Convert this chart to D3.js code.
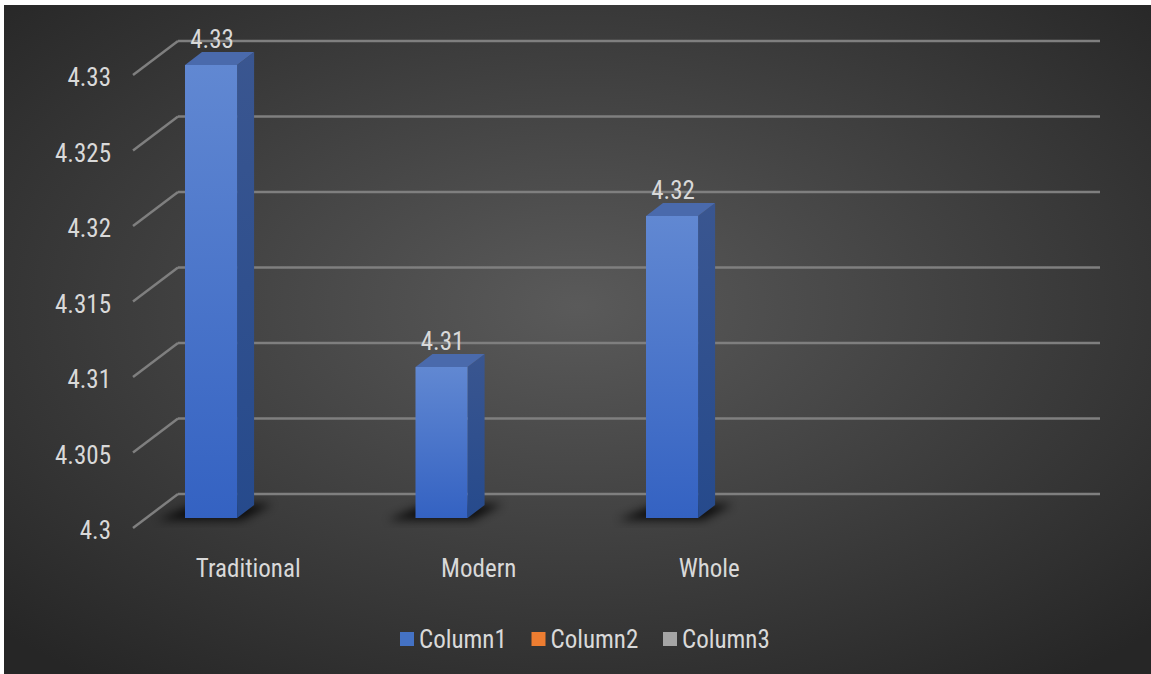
<!DOCTYPE html>
<html>
  <head>
    <meta charset="utf-8">
    <title>Column1 by group</title>
    <script src="https://d3js.org/d3.v7.min.js"></script>
    <style>
      body { margin: 0; background: #fff; }
      text { font-family: "Liberation Sans Narrow", "Roboto Condensed", Roboto, sans-serif; fill: #d9d9d9; }
    </style>
  </head>
  <body>
    <script>
      // chart data
      var categories = ["Traditional", "Modern", "Whole", ""],
        column1 = [4.33, 4.31, 4.32, null],
        yTicks = [4.3, 4.305, 4.31, 4.315, 4.32, 4.325, 4.33],
        legendNames = ["Column1", "Column2", "Column3"],
        legendColours = ["#4472c4", "#ed7d31", "#a5a5a5"];

      var width = 1151, height = 674;

      // depth of the back wall relative to the front edge of the floor
      var depth = [45, -34],
        barDepth = [17, -13];

      var svg = d3.select("body").append("svg")
        .attr("width", width)
        .attr("height", height);

      var defs = svg.append("defs");

      var bg = defs.append("radialGradient")
        .attr("id", "bg")
        .attr("cx", "50%").attr("cy", "45%").attr("r", "70%");
      bg.append("stop").attr("offset", "0%").attr("stop-color", "#5a5a5a");
      bg.append("stop").attr("offset", "100%").attr("stop-color", "#262626");

      var front = defs.append("linearGradient")
        .attr("id", "front").attr("x1", 0).attr("y1", 0).attr("x2", 0).attr("y2", 1);
      front.append("stop").attr("offset", "0%").attr("stop-color", "#6188d2");
      front.append("stop").attr("offset", "100%").attr("stop-color", "#3462c2");

      var side = defs.append("linearGradient")
        .attr("id", "side").attr("x1", 0).attr("y1", 0).attr("x2", 0).attr("y2", 1);
      side.append("stop").attr("offset", "0%").attr("stop-color", "#3a5690");
      side.append("stop").attr("offset", "100%").attr("stop-color", "#264a8c");

      defs.append("filter").attr("id", "blur")
        .attr("x", "-50%").attr("y", "-50%").attr("width", "200%").attr("height", "200%")
        .append("feGaussianBlur").attr("stdDeviation", 5);

      svg.append("rect")
        .attr("x", 4).attr("y", 5)
        .attr("width", width - 4).attr("height", height - 5)
        .attr("fill", "url(#bg)");

      // scales: y on the back wall, x on the front edge
      var y = d3.scaleLinear().domain([4.3, 4.33]).range([494, 41]);
      var x = d3.scaleBand().domain(categories).range([133, 1055]);

      // gridlines: back wall line + side wall diagonal
      var grid = svg.append("g");
      grid.selectAll("line.back")
        .data(yTicks)
        .enter().append("line")
          .attr("x1", x.range()[0] + depth[0])
          .attr("x2", x.range()[1] + depth[0])
          .attr("y1", function(d) { return y(d); })
          .attr("y2", function(d) { return y(d); })
          .attr("stroke", "#7f7f7f")
          .attr("stroke-width", 2.5);
      grid.selectAll("line.side")
        .data(yTicks)
        .enter().append("line")
          .attr("x1", x.range()[0])
          .attr("y1", function(d) { return y(d) - depth[1]; })
          .attr("x2", x.range()[0] + depth[0])
          .attr("y2", function(d) { return y(d); })
          .attr("stroke", "#7f7f7f")
          .attr("stroke-width", 2.5);

      // axis labels
      svg.append("g").selectAll("text")
        .data(yTicks)
        .enter().append("text")
          .attr("x", 111)
          .attr("y", function(d) { return y(d) - depth[1] + 2; })
          .attr("dy", "0.36em")
          .attr("text-anchor", "end")
          .style("font-size", "25px")
          .text(function(d) { return d3.format("")(d); });

      svg.append("g").selectAll("text")
        .data(categories)
        .enter().append("text")
          .attr("x", function(d) { return x(d) + x.bandwidth() / 2; })
          .attr("y", 568)
          .attr("dy", "0.36em")
          .attr("text-anchor", "middle")
          .style("font-size", "25px")
          .text(function(d) { return d; });

      // bars
      var bars = categories.map(function(c, i) { return { cat: c, value: column1[i] }; })
        .filter(function(d) { return d.value != null; });

      var barW = x.bandwidth() * 0.226,
        barLeft = function(d) { return x(d.cat) + x.bandwidth() * 0.2256; },
        floorY = y(4.3) + 24,
        topY = function(d) { return y(d.value) + 24; };

      var bar = svg.append("g").selectAll("g")
        .data(bars)
        .enter().append("g");

      // shadow on the floor
      bar.append("path")
        .attr("d", function(d) {
          var l = barLeft(d);
          return "M" + (l - 28) + "," + (floorY + 2) +
            "L" + (l + barW + 5) + "," + (floorY + 2) +
            "L" + (l + barW + 35) + "," + (floorY - 14) +
            "L" + (l + 10) + "," + (floorY - 14) + "Z";
        })
        .attr("fill", "#000")
        .attr("opacity", 0.8)
        .attr("filter", "url(#blur)");

      bar.append("path")
        .attr("d", function(d) {
          var l = barLeft(d) + barW, t = topY(d);
          return "M" + l + "," + t + "L" + (l + barDepth[0]) + "," + (t + barDepth[1]) +
            "L" + (l + barDepth[0]) + "," + (floorY + barDepth[1]) + "L" + l + "," + floorY + "Z";
        })
        .attr("fill", "url(#side)");

      bar.append("path")
        .attr("d", function(d) {
          var l = barLeft(d), t = topY(d);
          return "M" + l + "," + t + "L" + (l + barDepth[0]) + "," + (t + barDepth[1]) +
            "L" + (l + barW + barDepth[0]) + "," + (t + barDepth[1]) + "L" + (l + barW) + "," + t + "Z";
        })
        .attr("fill", "#4a6aac");

      bar.append("rect")
        .attr("x", barLeft)
        .attr("y", topY)
        .attr("width", barW)
        .attr("height", function(d) { return floorY - topY(d); })
        .attr("fill", "url(#front)");

      // value labels
      bar.append("text")
        .attr("x", function(d) { return barLeft(d) + barW / 2 + 1; })
        .attr("y", function(d) { return topY(d) - 26; })
        .attr("dy", "0.36em")
        .attr("text-anchor", "middle")
        .style("font-size", "25px")
        .text(function(d) { return d3.format(".2f")(d.value); });

      // legend
      var legend = svg.append("g").selectAll("g")
        .data(legendNames)
        .enter().append("g")
          .attr("transform", function(d, i) { return "translate(" + (400 + i * 131.5) + ",632)"; });
      legend.append("rect")
        .attr("width", 14).attr("height", 14)
        .attr("fill", function(d, i) { return legendColours[i]; });
      legend.append("text")
        .attr("x", 19).attr("y", 7)
        .attr("dy", "0.36em")
        .style("font-size", "25px")
        .text(function(d) { return d; });
    </script>
  </body>
</html>
